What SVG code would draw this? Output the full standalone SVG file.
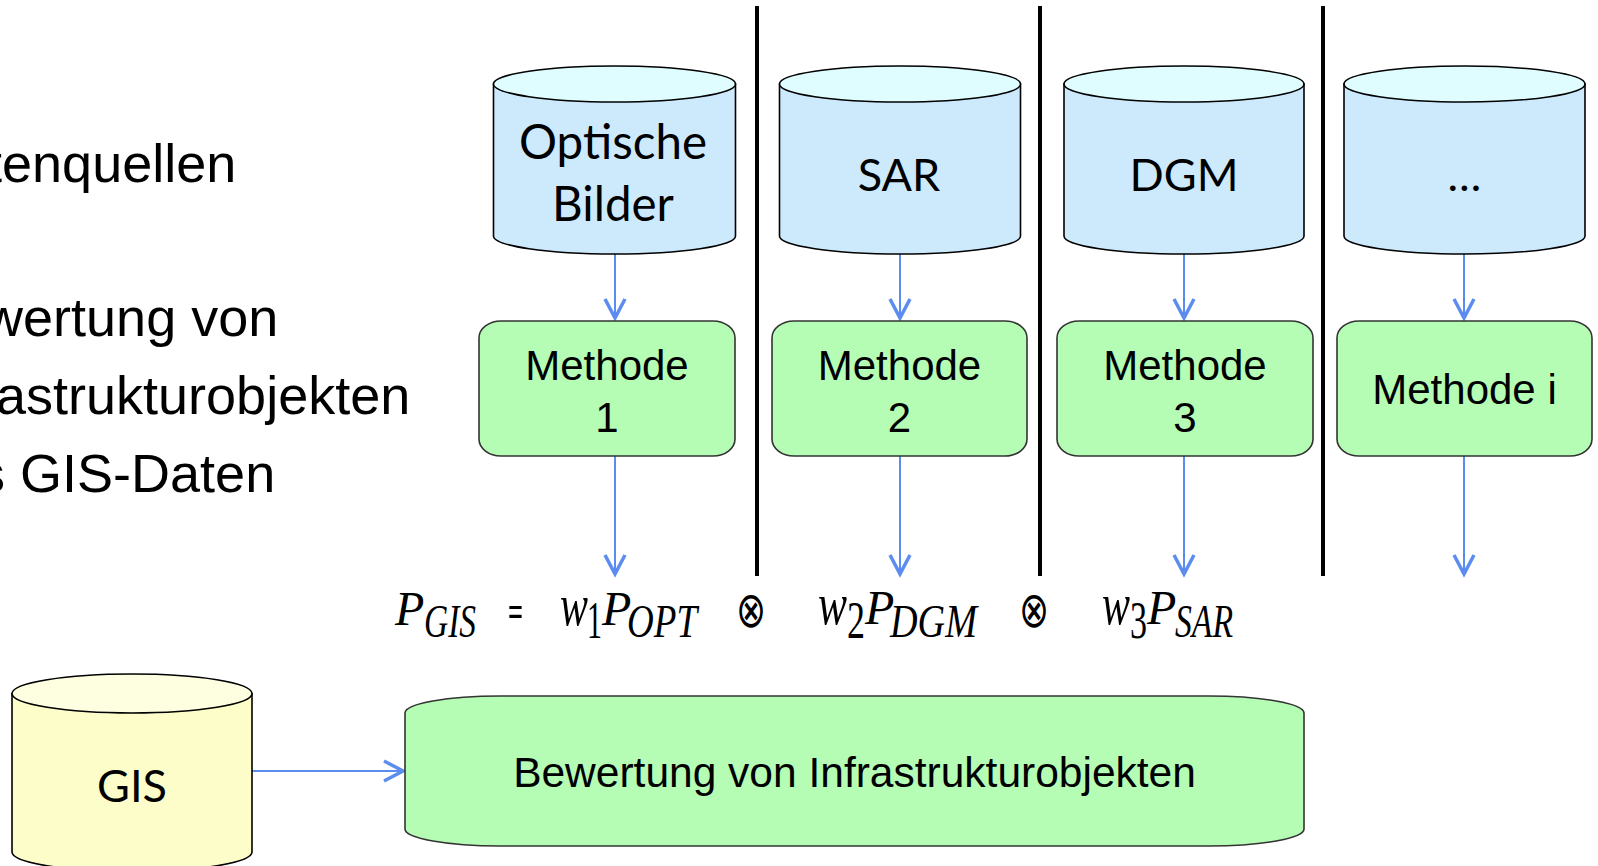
<svg xmlns="http://www.w3.org/2000/svg" width="1598" height="866" viewBox="0 0 1598 866">
  <defs>
    <style>
      .bg { fill: #ffffff; }
      .cyl-body { fill: #cdeafd; stroke: #000; stroke-width: 1.6; }
      .cyl-top { fill: #dffdfe; stroke: #000; stroke-width: 1.6; }
      .gis-body { fill: #fdfdc9; stroke: #000; stroke-width: 1.6; }
      .gis-top { fill: #fefee0; stroke: #000; stroke-width: 1.6; }
      .proc { fill: #b5fcb4; stroke: #333; stroke-width: 1.6; }
      .sep { stroke: #000; stroke-width: 4; }
      .flow { stroke: #5b8def; stroke-width: 2; fill: none; marker-end: url(#chevron); }
      .lbl-c { font-family: Lato, "Open Sans", sans-serif; font-size: 45px; fill: #000; text-anchor: middle; }
      .lbl-a { font-family: "Liberation Sans", Arial, sans-serif; font-size: 42px; fill: #000; text-anchor: middle; }
      .side { font-family: "Liberation Sans", Arial, sans-serif; font-size: 54px; fill: #000; }
      .mi { font-family: "Liberation Serif", "Times New Roman", serif; font-style: italic; fill: #000; }
      .mr { font-family: "Liberation Serif", "Times New Roman", serif; fill: #000; }
      .op { font-family: "DejaVu Sans", sans-serif; fill: #000; }
    </style>
    <marker id="chevron" markerUnits="userSpaceOnUse" viewBox="-24 -14 28 28" refX="0" refY="0" markerWidth="28" markerHeight="28" orient="auto">
      <path d="M-19,-10 L0,0 L-19,10" fill="none" stroke="#5b8def" stroke-width="3.5" stroke-linejoin="miter"/>
    </marker>
  </defs>

  <rect class="bg" x="0" y="0" width="1598" height="866"/>

  <!-- bullet text on the left, partly running off the edge -->
  <g id="side-text">
    <text class="side" x="-82" y="182">Datenquellen</text>
    <text class="side" x="-82" y="336">Bewertung von</text>
    <text class="side" x="-82" y="414">Infrastrukturobjekten</text>
    <text class="side" x="-82" y="492">aus GIS-Daten</text>
  </g>

  <!-- column separators -->
  <g id="separators">
    <line class="sep" x1="757" y1="6" x2="757" y2="576"/>
    <line class="sep" x1="1040" y1="6" x2="1040" y2="576"/>
    <line class="sep" x1="1323" y1="6" x2="1323" y2="576"/>
  </g>

  <!-- connectors -->
  <g id="connectors">
    <line class="flow" x1="615" y1="254" x2="615" y2="318"/>
    <line class="flow" x1="900" y1="254" x2="900" y2="318"/>
    <line class="flow" x1="1184" y1="254" x2="1184" y2="318"/>
    <line class="flow" x1="1464" y1="254" x2="1464" y2="318"/>
    <line class="flow" x1="615" y1="456" x2="615" y2="574"/>
    <line class="flow" x1="900" y1="456" x2="900" y2="574"/>
    <line class="flow" x1="1184" y1="456" x2="1184" y2="574"/>
    <line class="flow" x1="1464" y1="456" x2="1464" y2="574"/>
    <line class="flow" x1="252" y1="771" x2="403" y2="771"/>
  </g>

  <!-- data sources -->
  <g id="src-optisch">
    <path class="cyl-body" d="M493.5,84 L493.5,236 A121,18 0 0 0 735.5,236 L735.5,84 Z"/>
    <ellipse class="cyl-top" cx="614.5" cy="84" rx="121" ry="18"/>
    <text class="lbl-c" x="613" y="159" style="font-size:47.5px">Optische</text>
    <text class="lbl-c" x="613" y="221" style="font-size:47.5px">Bilder</text>
  </g>
  <g id="src-sar">
    <path class="cyl-body" d="M779.5,84 L779.5,236 A120.5,18 0 0 0 1020.5,236 L1020.5,84 Z"/>
    <ellipse class="cyl-top" cx="900" cy="84" rx="120.5" ry="18"/>
    <text class="lbl-c" x="899" y="191">SAR</text>
  </g>
  <g id="src-dgm">
    <path class="cyl-body" d="M1064,84 L1064,236 A120,18 0 0 0 1304,236 L1304,84 Z"/>
    <ellipse class="cyl-top" cx="1184" cy="84" rx="120" ry="18"/>
    <text class="lbl-c" x="1184" y="191">DGM</text>
  </g>
  <g id="src-more">
    <path class="cyl-body" d="M1344,84 L1344,236 A120.5,18 0 0 0 1585,236 L1585,84 Z"/>
    <ellipse class="cyl-top" cx="1464.5" cy="84" rx="120.5" ry="18"/>
    <text class="lbl-c" x="1464.5" y="191">…</text>
  </g>

  <!-- methods -->
  <g id="method-1">
    <rect class="proc" x="479" y="321" width="256" height="135" rx="22" ry="17"/>
    <text class="lbl-a" x="607" y="380">Methode</text>
    <text class="lbl-a" x="607" y="432">1</text>
  </g>
  <g id="method-2">
    <rect class="proc" x="772" y="321" width="255" height="135" rx="22" ry="17"/>
    <text class="lbl-a" x="899.5" y="380">Methode</text>
    <text class="lbl-a" x="899.5" y="432">2</text>
  </g>
  <g id="method-3">
    <rect class="proc" x="1057" y="321" width="256" height="135" rx="22" ry="17"/>
    <text class="lbl-a" x="1185" y="380">Methode</text>
    <text class="lbl-a" x="1185" y="432">3</text>
  </g>
  <g id="method-i">
    <rect class="proc" x="1337" y="321" width="255" height="135" rx="22" ry="17"/>
    <text class="lbl-a" x="1464.5" y="404">Methode i</text>
  </g>

  <!-- fusion formula -->
  <g id="formula">
    <text class="mi" x="395" y="625" font-size="48">P</text>
    <text class="mi" x="424" y="637" font-size="46" textLength="52" lengthAdjust="spacingAndGlyphs">GIS</text>
    <text class="mr" x="508" y="626" font-size="44" font-weight="bold" font-family="Liberation Sans, sans-serif" textLength="15" lengthAdjust="spacingAndGlyphs">=</text>
    <text class="mi" x="560" y="625" font-size="60" textLength="28" lengthAdjust="spacingAndGlyphs">w</text>
    <text class="mr" x="587" y="638" font-size="52" textLength="15" lengthAdjust="spacingAndGlyphs">1</text>
    <text class="mi" x="602" y="625" font-size="48">P</text>
    <text class="mi" x="627" y="637" font-size="46" textLength="70" lengthAdjust="spacingAndGlyphs">OPT</text>
    <text class="op" x="736" y="627" font-size="50" textLength="30" lengthAdjust="spacingAndGlyphs">⊗</text>
    <text class="mi" x="818" y="624" font-size="60" textLength="29" lengthAdjust="spacingAndGlyphs">w</text>
    <text class="mr" x="847" y="638" font-size="52" textLength="18" lengthAdjust="spacingAndGlyphs">2</text>
    <text class="mi" x="865" y="624" font-size="48">P</text>
    <text class="mi" x="890" y="637" font-size="46" textLength="87" lengthAdjust="spacingAndGlyphs">DGM</text>
    <text class="op" x="1019" y="627" font-size="50" textLength="30" lengthAdjust="spacingAndGlyphs">⊗</text>
    <text class="mi" x="1102" y="624" font-size="60" textLength="28" lengthAdjust="spacingAndGlyphs">w</text>
    <text class="mr" x="1130" y="638" font-size="52" textLength="17" lengthAdjust="spacingAndGlyphs">3</text>
    <text class="mi" x="1147" y="624" font-size="48">P</text>
    <text class="mi" x="1175" y="637" font-size="46" textLength="58" lengthAdjust="spacingAndGlyphs">SAR</text>
  </g>

  <!-- GIS source -->
  <g id="src-gis">
    <path class="gis-body" d="M12,693.5 L12,852 A120,19.5 0 0 0 252,852 L252,693.5 Z"/>
    <ellipse class="gis-top" cx="132" cy="693.5" rx="120" ry="19.5"/>
    <text class="lbl-c" x="132" y="802">GIS</text>
  </g>

  <!-- assessment -->
  <g id="assessment">
    <path class="proc" d="M500,696 L1209,696 A95,17 0 0 1 1304,713 L1304,829 A95,17 0 0 1 1209,846 L500,846 A95,17 0 0 1 405,829 L405,713 A95,17 0 0 1 500,696 Z"/>
    <text class="lbl-a" x="854.5" y="787" style="font-size:42.5px">Bewertung von Infrastrukturobjekten</text>
  </g>
</svg>
